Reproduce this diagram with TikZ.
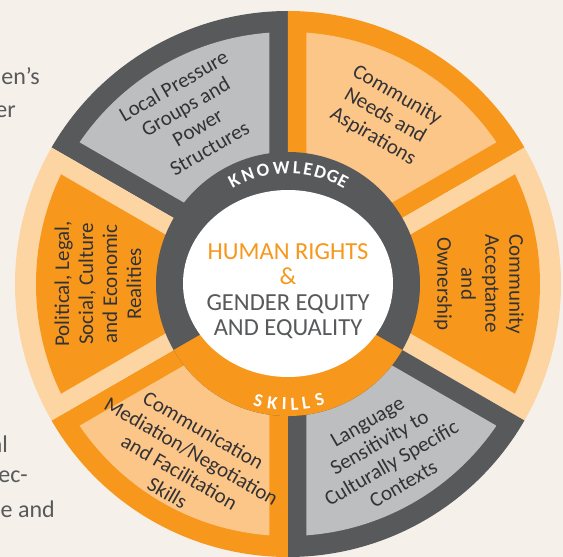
\documentclass[tikz,border=0pt]{standalone}
\usepackage{fontspec}
\setmainfont{Carlito}
\definecolor{bgc}{HTML}{F6F0EA}
\definecolor{dk}{HTML}{58595B}
\definecolor{lg}{HTML}{BCBEC0}
\definecolor{orn}{HTML}{F7981D}
\definecolor{lo}{HTML}{FDC689}
\definecolor{pe}{HTML}{FDD5A3}
\definecolor{txt}{HTML}{333335}
\tikzset{
  sectxt/.style={text=txt, align=center, inner sep=0pt, font=\fontsize{21}{24}\selectfont},
  ringletter/.style={text=white, inner sep=0pt, font=\fontsize{18.5}{18.5}\selectfont\bfseries},
  frag/.style={text=dk, inner sep=0pt, anchor=base east, font=\fontsize{24}{24}\selectfont},
  centretxt/.style={text=dk, align=center, inner sep=0pt, font=\fontsize{24.5}{25.5}\selectfont}
}
\begin{document}
\begin{tikzpicture}[x=1pt,y=1pt]
\useasboundingbox (-288,-273) rectangle (275,284);
\clip (-288,-273) rectangle (275,284);
\fill[bgc] (-288,-273) rectangle (275,284);
% body text fragments behind the wheel
\node[frag] (f1) at (-248,199) {en’s};
\node[frag] (f2) at (-272,166) {er};
\node[frag] (f3) at (-280,-168) {al};
\node[frag] (f4) at (-260,-198) {ec-};
\node[frag] (f5) at (-233,-233) {e and};
% sectors
\foreach \a/\fr/\fl in {90/dk/lg, 30/orn/lo, -30/pe/orn, -90/dk/lg, -150/orn/lo, 150/pe/orn} {
  \fill[\fr] (0,0) -- (\a:273) arc[start angle=\a, end angle=\a+60, radius=273] -- cycle;
  \begin{scope}
    \clip (0,0) circle[radius=252];
    \fill[\fl] ({\a+30}:37) -- ++(\a:320) -- ++({\a+120}:320) -- cycle;
  \end{scope}
}
% inner ring
\fill[dk] (0,0) circle[radius=132];
\fill[orn] (0,0) -- (-150:132) arc[start angle=-150, end angle=-30, radius=132] -- cycle;
\fill[white] (0,0.5) ellipse[x radius=105, y radius=93.5];
% ring words
\foreach \l/\t [count=\i] in {K/117.5, N/110.2, O/102.4, W/93.3, L/85.6, E/80, D/73.8, G/67.4, E/61.8} {
  \node[ringletter, rotate=\t-90] (kn\i) at (\t:116.5) {\l};
}
\foreach \l/\t [count=\i] in {S/-104.3, K/-97.5, I/-91.8, L/-86.9, L/-81.4, S/-74.8} {
  \node[ringletter, rotate=\t+90] (sk\i) at (\t:120) {\l};
}
% centre
\node[centretxt] (centre) at (0,-7) {\textcolor{orn}{HUMAN RIGHTS}\\\textcolor{orn}{\&}\\GENDER EQUITY\\AND EQUALITY};
% sector texts
\node[sectxt, rotate=30] (t1) at (120:193) {Local Pressure\\Groups and\\Power\\Structures};
\node[sectxt, rotate=-30] (t2) at (60:194) {Community\\Needs and\\Aspirations};
\node[sectxt, rotate=-90] (t3) at (0:191) {Community\\Acceptance\\and\\Ownership};
\node[sectxt, rotate=30] (t4) at (-60:195) {Language\\Sensitivity to\\Culturally Specific\\Contexts};
\node[sectxt, rotate=-30] (t5) at (-120:205) {Communication\\Mediation/Negotiation\\and Facilitation\\Skills};
\node[sectxt, rotate=90] (t6) at (180:190) {Political, Legal,\\Social, Culture\\and Economic\\Realities};
\end{tikzpicture}
\end{document}
